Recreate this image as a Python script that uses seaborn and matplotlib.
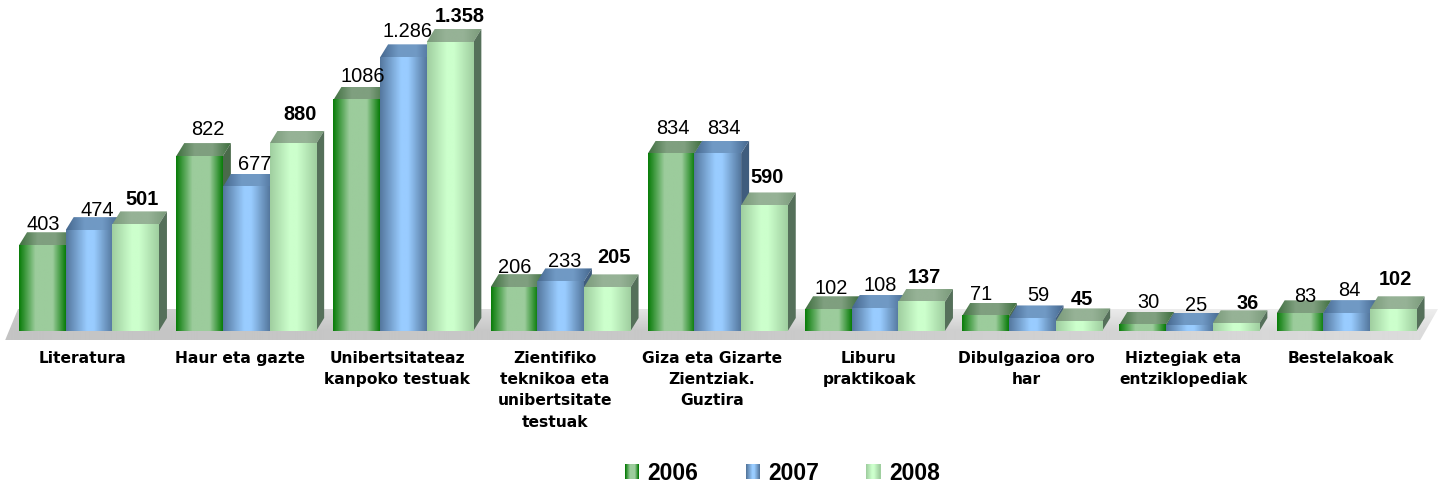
import matplotlib
matplotlib.use('Agg')
import matplotlib.pyplot as plt
import matplotlib.transforms as mtrans
from matplotlib.colors import LinearSegmentedColormap
from matplotlib.legend_handler import HandlerBase
from matplotlib.patches import Patch, Polygon, Rectangle
import numpy as np
import pandas as pd
import seaborn as sns

categories = ['Literatura', 'Haur eta gazte', 'Unibertsitateaz\nkanpoko testuak',
              'Zientifiko\nteknikoa eta\nunibertsitate\ntestuak',
              'Giza eta Gizarte\nZientziak.\nGuztira', 'Liburu\npraktikoak',
              'Dibulgazioa oro\nhar', 'Hiztegiak eta\nentziklopediak', 'Bestelakoak']
years = ['2006', '2007', '2008']
v2006 = [403, 822, 1086, 206, 834, 102, 71, 30, 83]
v2007 = [474, 677, 1286, 233, 834, 108, 59, 25, 84]
v2008 = [501, 880, 1358, 205, 590, 137, 45, 36, 102]
text2006 = ['403', '822', '1086', '206', '834', '102', '71', '30', '83']
text2007 = ['474', '677', '1.286', '233', '834', '108', '59', '25', '84']
text2008 = ['501', '880', '1.358', '205', '590', '137', '45', '36', '102']

# desplazamiento de cada etiqueta respecto a su barra, en pixeles
nudge_x = {'2006': [1, 8, 6, 1, 2, 3, -4, 6, 5],
           '2007': [8, 8, 4, 4, 6, 5, 6, 7, 3],
           '2008': [6, 7, 10, 7, 3, 3, 3, 12, 2]}
nudge_y = {'2006': [2, 8, 5, 1, 7, 2, 3, 4, -2],
           '2007': [1, 4, 7, 1, 7, 4, 4, 2, 4],
           '2008': [6, 11, 7, 11, 9, 6, 3, 1, 11]}

# colores: borde, centro
front_colors = {'2006': ('#0a7d0a', '#9ccc9c'), '2007': ('#55789f', '#99ccff'), '2008': ('#a0cfa0', '#ccffcc')}
front_stops = {'2006': (0.35, 0.72), '2007': (0.45, 0.6), '2008': (0.42, 0.58)}
top_colors = {'2006': ('#3f6f3f', '#7f9f7f'), '2007': ('#46688f', '#7099c4'), '2008': ('#7a9a7a', '#96b296')}
side_colors = {'2006': '#4a6a4a', '2007': '#3f5c7d', '2008': '#55705a'}

FIG_W, FIG_H = 1438, 488
BASE_PX = 331
PX_PER_UNIT = 0.2128
GROUP_PX = 157.2
FIRST_PX = 89
DEPTH_X = 8 / GROUP_PX
DEPTH_Y = 13 / PX_PER_UNIT


def gradiente(ax, extent, stops, zorder, clip=None):
    g = np.linspace(0, 1, 64).reshape(1, -1)
    cmap = LinearSegmentedColormap.from_list('g', stops)
    im = ax.imshow(g, cmap=cmap, extent=extent, aspect='auto', zorder=zorder,
                   interpolation='bilinear', origin='lower')
    if clip is not None:
        im.set_clip_path(Polygon(clip, closed=True, transform=ax.transData))
    return im


def barra_3d(ax, bar, year, zorder):
    x0 = bar.get_x()
    x1 = x0 + bar.get_width()
    h = bar.get_height()
    dark, light = front_colors[year]
    tdark, tlight = top_colors[year]
    # cara superior
    top = [(x0, h), (x1, h), (x1 + DEPTH_X, h + DEPTH_Y), (x0 + DEPTH_X, h + DEPTH_Y)]
    gradiente(ax, (x0, x1 + DEPTH_X, h, h + DEPTH_Y), [tdark, tlight, tlight, tdark], zorder, clip=top)
    # cara lateral
    side = [(x1, 0), (x1 + DEPTH_X, DEPTH_Y), (x1 + DEPTH_X, h + DEPTH_Y), (x1, h)]
    ax.add_patch(Polygon(side, closed=True, facecolor=side_colors[year], edgecolor='none', zorder=zorder))
    # cara frontal
    a, b = front_stops[year]
    gradiente(ax, (x0, x1, 0, h), [(0, dark), (a, light), (b, light), (1, dark)], zorder + 0.5)


def suelo(ax, fig):
    px = lambda p: (p - FIRST_PX) / GROUP_PX
    y0 = -9.5 / PX_PER_UNIT
    y1 = 22 / PX_PER_UNIT
    # tira frontal plana y parte trasera con degradado vertical
    u = np.linspace(0, 1, 200)
    strip = np.interp(u, [0, 0.5, 1], [196, 200, 220])
    back = np.interp(u, [0, 0.5, 1], [200, 233, 238])
    v = np.linspace(y0, y1, 64)
    t = np.clip(v / y1, 0, 1)
    gray = np.outer(1 - t, strip) + np.outer(t, back)
    im = ax.imshow(gray / 255, cmap='gray', vmin=0, vmax=1, extent=(px(5), px(1438), y0, y1),
                   aspect='auto', origin='lower', zorder=1, interpolation='bilinear')
    im.set_clip_path(Polygon([(px(5), y0), (px(1420), y0), (px(1438), y1), (px(18), y1)],
                             closed=True, transform=ax.transData))
    im.set_clip_box(fig.bbox)


class HandlerGradiente(HandlerBase):
    def create_artists(self, legend, orig_handle, xdescent, ydescent, width, height, fontsize, trans):
        year = orig_handle.get_label()
        dark, light = front_colors[year]
        a, b = front_stops[year]
        cmap = LinearSegmentedColormap.from_list('h', [(0, dark), (a, light), (b, light), (1, dark)])
        n = 14
        return [Rectangle((i * width / n - xdescent, -ydescent), width / n + 0.3, height,
                          facecolor=cmap(i / (n - 1)), edgecolor='none', transform=trans)
                for i in range(n)]


plt.rcParams['font.family'] = ['Liberation Sans', 'DejaVu Sans']

df = pd.DataFrame({'categoria': categories * 3,
                   'year': [y for y in years for _ in categories],
                   'valor': v2006 + v2007 + v2008})

fig = plt.figure(figsize=(FIG_W / 100, FIG_H / 100), dpi=100)
ax = fig.add_axes([0, (FIG_H - BASE_PX) / FIG_H, 1, BASE_PX / FIG_H])

palette = {y: front_colors[y][1] for y in years}
sns.barplot(data=df, x='categoria', y='valor', hue='year', hue_order=years, palette=palette,
            width=0.89, gap=0, legend=False, ax=ax, zorder=2)

suelo(ax, fig)

# barras con volumen, de izquierda a derecha
texts = dict(zip(years, [text2006, text2007, text2008]))
items = []
for y, cont in zip(years, ax.containers):
    for i, bar in enumerate(cont):
        items.append((bar.get_x(), y, i, bar))
items.sort(key=lambda it: it[0])

zo = 3
for _, y, i, bar in items:
    barra_3d(ax, bar, y, zo)
    zo += 1
    ax.text(bar.get_x() + bar.get_width() / 2 + nudge_x[y][i] / GROUP_PX,
            bar.get_height() + DEPTH_Y + nudge_y[y][i] / PX_PER_UNIT,
            texts[y][i], ha='center', va='baseline', fontsize=14.4,
            fontweight='bold' if y == '2008' else 'normal', color='black', zorder=100, clip_on=False)

ax.set_xlim(-FIRST_PX / GROUP_PX, (FIG_W - FIRST_PX) / GROUP_PX)
ax.set_ylim(0, BASE_PX / PX_PER_UNIT)
for s in ax.spines.values():
    s.set_visible(False)
ax.set_xlabel('')
ax.set_ylabel('')
ax.set_yticks([])
ax.tick_params(axis='x', length=0, pad=14.4)
shift = mtrans.ScaledTranslation(-6 / 100, 0, fig.dpi_scale_trans)
ax.set_xticks(range(len(categories)))
ax.set_xticklabels(categories, fontsize=11.2, fontweight='bold', family=['DejaVu Sans'], linespacing=1.52, va='top')
for lab in ax.get_xticklabels():
    lab.set_transform(lab.get_transform() + shift)

handles = [Patch(label=y) for y in years]
fig.legend(handles=handles, handler_map={Patch: HandlerGradiente()}, loc='center', ncol=3,
           bbox_to_anchor=(782.5 / FIG_W, 1 - 473 / FIG_H), frameon=False,
           prop={'size': 16.5, 'weight': 'bold'}, handlelength=0.61, handleheight=0.61,
           handletextpad=0.39, columnspacing=2.05)

fig.savefig('out.png', dpi=100)
